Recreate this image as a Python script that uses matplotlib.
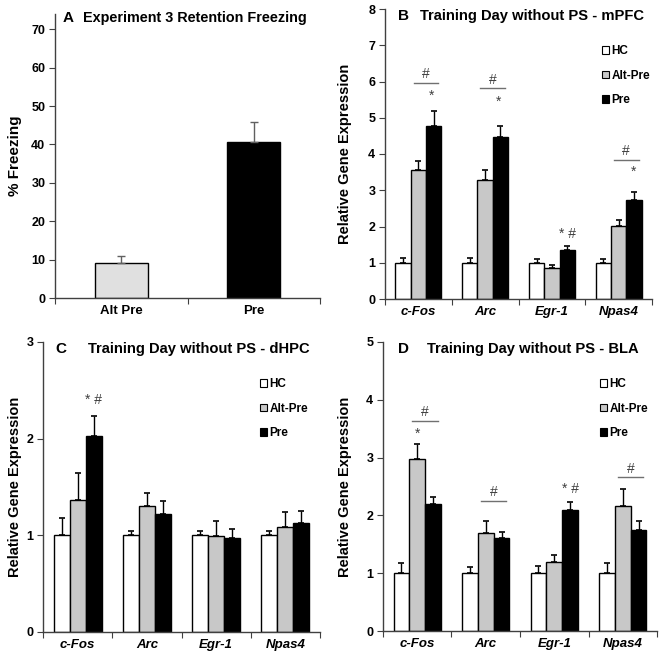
import matplotlib
matplotlib.use("Agg")
import matplotlib.pyplot as plt
from matplotlib.patches import Patch
import numpy as np

plt.rcParams['font.family'] = ['Liberation Sans', 'DejaVu Sans']

# Panel A data
a_groups = ["Alt Pre", "Pre"]
a_vals = [9.0, 40.7]
a_errs = [2.0, 5.1]

# Panels B-D data
genes = ["c-Fos", "Arc", "Egr-1", "Npas4"]
conds = ["HC", "Alt-Pre", "Pre"]

b_hc = [1.0, 1.0, 1.0, 1.0]
b_hc_err = [0.13, 0.13, 0.10, 0.10]
b_alt = [3.56, 3.27, 0.85, 2.02]
b_alt_err = [0.26, 0.28, 0.09, 0.15]
b_pre = [4.77, 4.46, 1.34, 2.72]
b_pre_err = [0.41, 0.32, 0.11, 0.22]

c_hc = [1.0, 1.0, 1.0, 1.0]
c_hc_err = [0.18, 0.04, 0.04, 0.05]
c_alt = [1.37, 1.30, 0.99, 1.09]
c_alt_err = [0.28, 0.14, 0.16, 0.15]
c_pre = [2.03, 1.22, 0.97, 1.13]
c_pre_err = [0.20, 0.14, 0.10, 0.12]

d_hc = [1.0, 1.0, 1.0, 1.0]
d_hc_err = [0.18, 0.10, 0.12, 0.17]
d_alt = [2.97, 1.70, 1.20, 2.17]
d_alt_err = [0.27, 0.21, 0.11, 0.29]
d_pre = [2.19, 1.61, 2.10, 1.75]
d_pre_err = [0.12, 0.10, 0.14, 0.15]

# significance marks: (gene index, y) for bracket lines with '#', and texts
b_lines = [(0, 5.96), (1, 5.81), (3, 3.83)]
b_marks = [(0, 0.2, 5.6, "*"), (1, 0.2, 5.45, "*"), (3, 0.23, 3.5, "*"), (2, 0.23, 1.8, "* #")]
c_lines = []
c_marks = [(0, 0.23, 2.4, "* #")]
d_lines = [(0, 3.64), (1, 2.25), (3, 2.66)]
d_marks = [(0, 0.0, 3.42, "*"), (2, 0.23, 2.45, "* #")]

fig = plt.figure(figsize=(6.63, 6.56), dpi=100)

spine_col = "#404040"
alt_col = "#c8c8c8"


def style_axes(ax):
    for s in ["top", "right"]:
        ax.spines[s].set_visible(False)
    for s in ["left", "bottom"]:
        ax.spines[s].set_color(spine_col)
        ax.spines[s].set_linewidth(1.0)
    ax.tick_params(axis="y", direction="out", length=4, color=spine_col,
                   labelsize=9, pad=3)
    ax.tick_params(axis="x", which="major", direction="out", length=4, color=spine_col)
    ax.tick_params(axis="x", which="minor", length=0, labelsize=9.5, pad=5)
    for lab in ax.get_yticklabels():
        lab.set_fontweight("bold")


# ---- Panel A ----
axA = fig.add_axes([55 / 663, 1 - 298 / 656, 265 / 663, 284 / 656])
xa = np.arange(len(a_groups)) + 0.5
axA.bar(xa, a_vals, width=0.4, color=["#e0e0e0", "black"], edgecolor="black", linewidth=1)
axA.errorbar(xa, a_vals, yerr=[np.zeros(2), a_errs], fmt="none", ecolor="#606060",
             elinewidth=1, capsize=3, capthick=1)
axA.set_xlim(0, 2)
axA.set_ylim(0, 74)
axA.set_yticks(range(0, 80, 10))
axA.set_xticks([0, 1, 2], labels=["", "", ""])
axA.set_xticks(xa, labels=a_groups, minor=True)
style_axes(axA)
for lab in axA.get_xticklabels(minor=True):
    lab.set_fontweight("bold")
axA.set_ylabel("% Freezing", fontsize=11, fontweight="bold")
axA.yaxis.set_label_coords(-0.125, 0.5)
axA.text(0.03, 0.985, "A", transform=axA.transAxes, fontsize=11, fontweight="bold",
         va="center", ha="left")
axA.text(0.106, 0.985, "Experiment 3 Retention Freezing", transform=axA.transAxes,
         fontsize=10.4, fontweight="bold", va="center", ha="left")


def gene_panel(rect, hc, hc_err, alt, alt_err, pre, pre_err, ymax, letter, title,
               lines, marks, letter_x, title_x, leg_x, ylab_x):
    ax = fig.add_axes(rect)
    x = np.arange(len(genes)) + 0.5
    w = 0.23
    series = [(hc, hc_err, "white"), (alt, alt_err, alt_col), (pre, pre_err, "black")]
    for i, (v, e, c) in enumerate(series):
        xi = x + (i - 1) * w
        ax.bar(xi, v, width=w, color=c, edgecolor="black", linewidth=1, label=conds[i])
        ax.errorbar(xi, v, yerr=[np.zeros(len(v)), e], fmt="none", ecolor="black",
                    elinewidth=1, capsize=2.5, capthick=1.2)
    for g, y in lines:
        ax.plot([x[g] - 0.07, x[g] + 0.3], [y, y], color="#707070", lw=1)
        ax.text(x[g] + 0.115, y + ymax * 0.006, "#", ha="center", va="bottom",
                fontsize=10, color="#404040")
    for g, off, y, s in marks:
        ax.text(x[g] + off, y, s, ha="center", va="center", fontsize=10, color="#404040")
    ax.set_xlim(0, 4)
    ax.set_ylim(0, ymax)
    ax.set_yticks(range(0, ymax + 1))
    ax.set_xticks(range(5), labels=[""] * 5)
    ax.set_xticks(x, labels=genes, minor=True)
    style_axes(ax)
    for lab in ax.get_xticklabels(minor=True):
        lab.set_fontweight("bold")
        lab.set_fontstyle("italic")
    ax.set_ylabel("Relative Gene Expression", fontsize=10.5, fontweight="bold")
    ax.yaxis.set_label_coords(ylab_x, 0.5)
    ax.text(letter_x, 0.975, letter, transform=ax.transAxes, fontsize=11,
            fontweight="bold", va="center", ha="left")
    ax.text(title_x, 0.975, title, transform=ax.transAxes, fontsize=10.6,
            fontweight="bold", va="center", ha="left")
    handles = [Patch(facecolor=c, edgecolor="black", linewidth=0.8)
               for c in ["white", alt_col, "black"]]
    ax.legend(handles, conds, loc="upper left", bbox_to_anchor=(leg_x, 0.875),
              frameon=False, borderpad=0, borderaxespad=0, handlelength=0.6,
              handleheight=0.6, handletextpad=0.2, labelspacing=1.05,
              prop={"weight": "bold", "size": 8.5})
    return ax


gene_panel([385 / 663, 1 - 299 / 656, 267 / 663, 290 / 656],
           b_hc, b_hc_err, b_alt, b_alt_err, b_pre, b_pre_err, 8,
           "B", "Training Day without PS - mPFC", b_lines, b_marks, 0.049, 0.131, 0.813,
           -0.124)
gene_panel([43 / 663, 1 - 632 / 656, 277 / 663, 290 / 656],
           c_hc, c_hc_err, c_alt, c_alt_err, c_pre, c_pre_err, 3,
           "C", "Training Day without PS - dHPC", c_lines, c_marks, 0.043, 0.163, 0.783,
           -0.076)
gene_panel([383 / 663, 1 - 631 / 656, 274 / 663, 289 / 656],
           d_hc, d_hc_err, d_alt, d_alt_err, d_pre, d_pre_err, 5,
           "D", "Training Day without PS - BLA", d_lines, d_marks, 0.055, 0.16, 0.792,
           -0.113)

fig.savefig("out.png", dpi=100)
